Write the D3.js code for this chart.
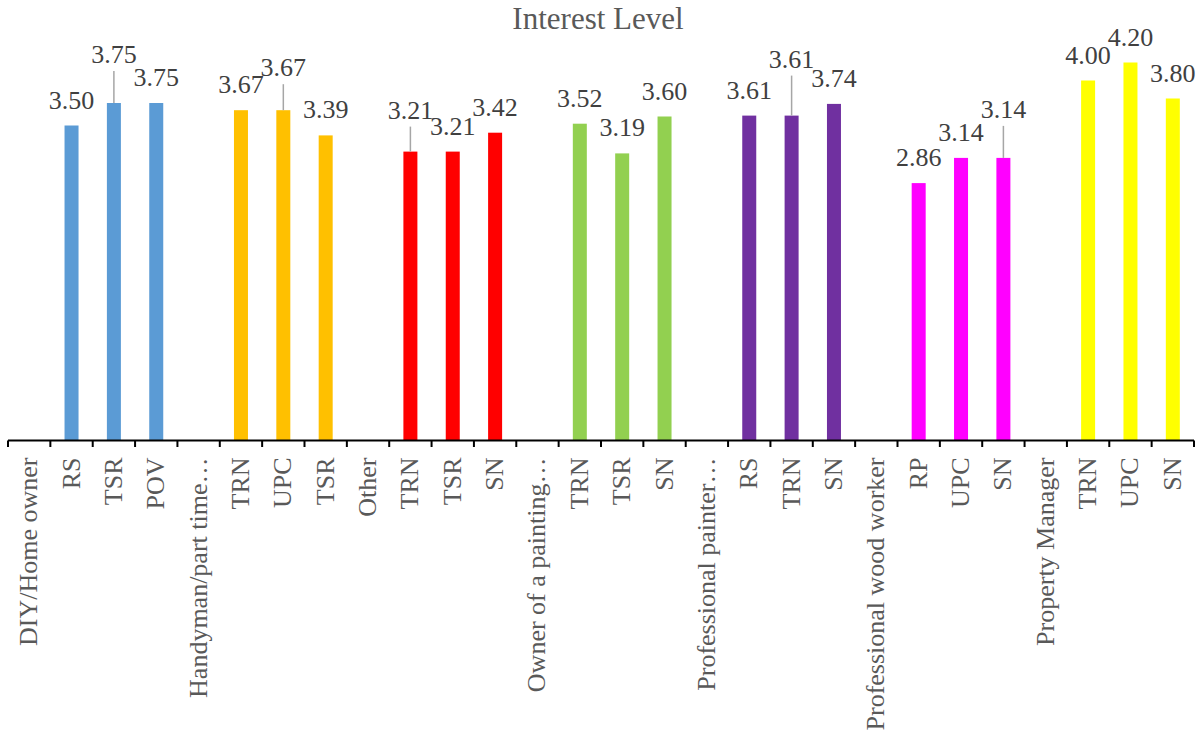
<!DOCTYPE html>
<html>
<head>
<meta charset="utf-8">
<script src="https://cdn.jsdelivr.net/npm/d3@7"></script>
<style>
  html, body { margin: 0; padding: 0; background: #fff; }
  svg { display: block; font-family: "Liberation Serif", "Times New Roman", serif; }
</style>
</head>
<body>
<svg id="chart" width="1203" height="740"></svg>
<script>
// Category slots along the x axis: each respondent group header is followed by its items.
const categories = [
  "DIY/Home owner", "RS", "TSR", "POV",
  "Handyman/part time…", "TRN", "UPC", "TSR",
  "Other", "TRN", "TSR", "SN",
  "Owner of a painting…", "TRN", "TSR", "SN",
  "Professional painter…", "RS", "TRN", "SN",
  "Professional wood worker", "RP", "UPC", "SN",
  "Property Manager", "TRN", "UPC", "SN"
];

// Interest level per slot (null = group header, no bar).
const values = [
  null, 3.50, 3.75, 3.75,
  null, 3.67, 3.67, 3.39,
  null, 3.21, 3.21, 3.42,
  null, 3.52, 3.19, 3.60,
  null, 3.61, 3.61, 3.74,
  null, 2.86, 3.14, 3.14,
  null, 4.00, 4.20, 3.80
];

// Group index per slot, used for bar colour.
const groups = [
  0, 0, 0, 0,
  1, 1, 1, 1,
  2, 2, 2, 2,
  3, 3, 3, 3,
  4, 4, 4, 4,
  5, 5, 5, 5,
  6, 6, 6, 6
];

const groupColors = ["#5B9BD5", "#FFC000", "#FF0000", "#92D050", "#7030A0", "#FF00FF", "#FFFF00"];

// Extra lift for value labels that would otherwise collide; drawn with a leader line.
const labelLift = { 2: 23, 6: 17, 9: 16, 18: 31, 23: 23 };

const svg = d3.select("#chart");
const left = 8, right = 1194, baseY = 440.5;

const x = d3.scaleBand().domain(d3.range(categories.length)).range([left, right]).paddingInner(0).paddingOuter(0);
const y = d3.scaleLinear().domain([0, 4.5]).range([baseY, baseY - 90 * 4.5]);
const barW = 14;

// Title
svg.append("text")
  .attr("x", 598).attr("y", 29)
  .attr("text-anchor", "middle")
  .attr("font-size", 31)
  .attr("fill", "#595959")
  .text("Interest Level");

const data = values.map((v, i) => ({ i, v, g: groups[i] })).filter(d => d.v !== null);

// Bars
svg.append("g").selectAll("rect").data(data).join("rect")
  .attr("x", d => x(d.i) + x.bandwidth() / 2 - barW / 2)
  .attr("width", barW)
  .attr("y", d => y(d.v))
  .attr("height", d => baseY - y(d.v))
  .attr("fill", d => groupColors[d.g]);

// Leader lines for lifted labels
svg.append("g").selectAll("line").data(data.filter(d => labelLift[d.i])).join("line")
  .attr("x1", d => x(d.i) + x.bandwidth() / 2)
  .attr("x2", d => x(d.i) + x.bandwidth() / 2)
  .attr("y1", d => y(d.v))
  .attr("y2", d => y(d.v) - 17 - labelLift[d.i] + 8)
  .attr("stroke", "#A6A6A6")
  .attr("stroke-width", 1.5);

// Value labels
svg.append("g").selectAll("text").data(data).join("text")
  .attr("x", d => x(d.i) + x.bandwidth() / 2)
  .attr("y", d => y(d.v) - 17 - (labelLift[d.i] || 0))
  .attr("text-anchor", "middle")
  .attr("font-size", 26)
  .attr("fill", "#404040")
  .text(d => d.v.toFixed(2));

// X axis with ticks between categories
const axisG = svg.append("g");
axisG.append("line")
  .attr("x1", left).attr("x2", right)
  .attr("y1", baseY).attr("y2", baseY)
  .attr("stroke", "#000").attr("stroke-width", 2);
const tickXs = d3.range(categories.length + 1).map(k => k === categories.length ? right : x(k));
axisG.selectAll("line.tick").data(tickXs).join("line")
  .attr("class", "tick")
  .attr("x1", d => d).attr("x2", d => d)
  .attr("y1", baseY).attr("y2", baseY + 6.5)
  .attr("stroke", "#000").attr("stroke-width", 2);

// Rotated category labels
axisG.selectAll("text").data(categories).join("text")
  .attr("transform", (d, i) => `translate(${x(i) + x.bandwidth() / 2 + 8},${baseY + 17}) rotate(-90)`)
  .attr("text-anchor", "end")
  .attr("font-size", 26)
  .attr("fill", "#595959")
  .text(d => d);
</script>
</body>
</html>
